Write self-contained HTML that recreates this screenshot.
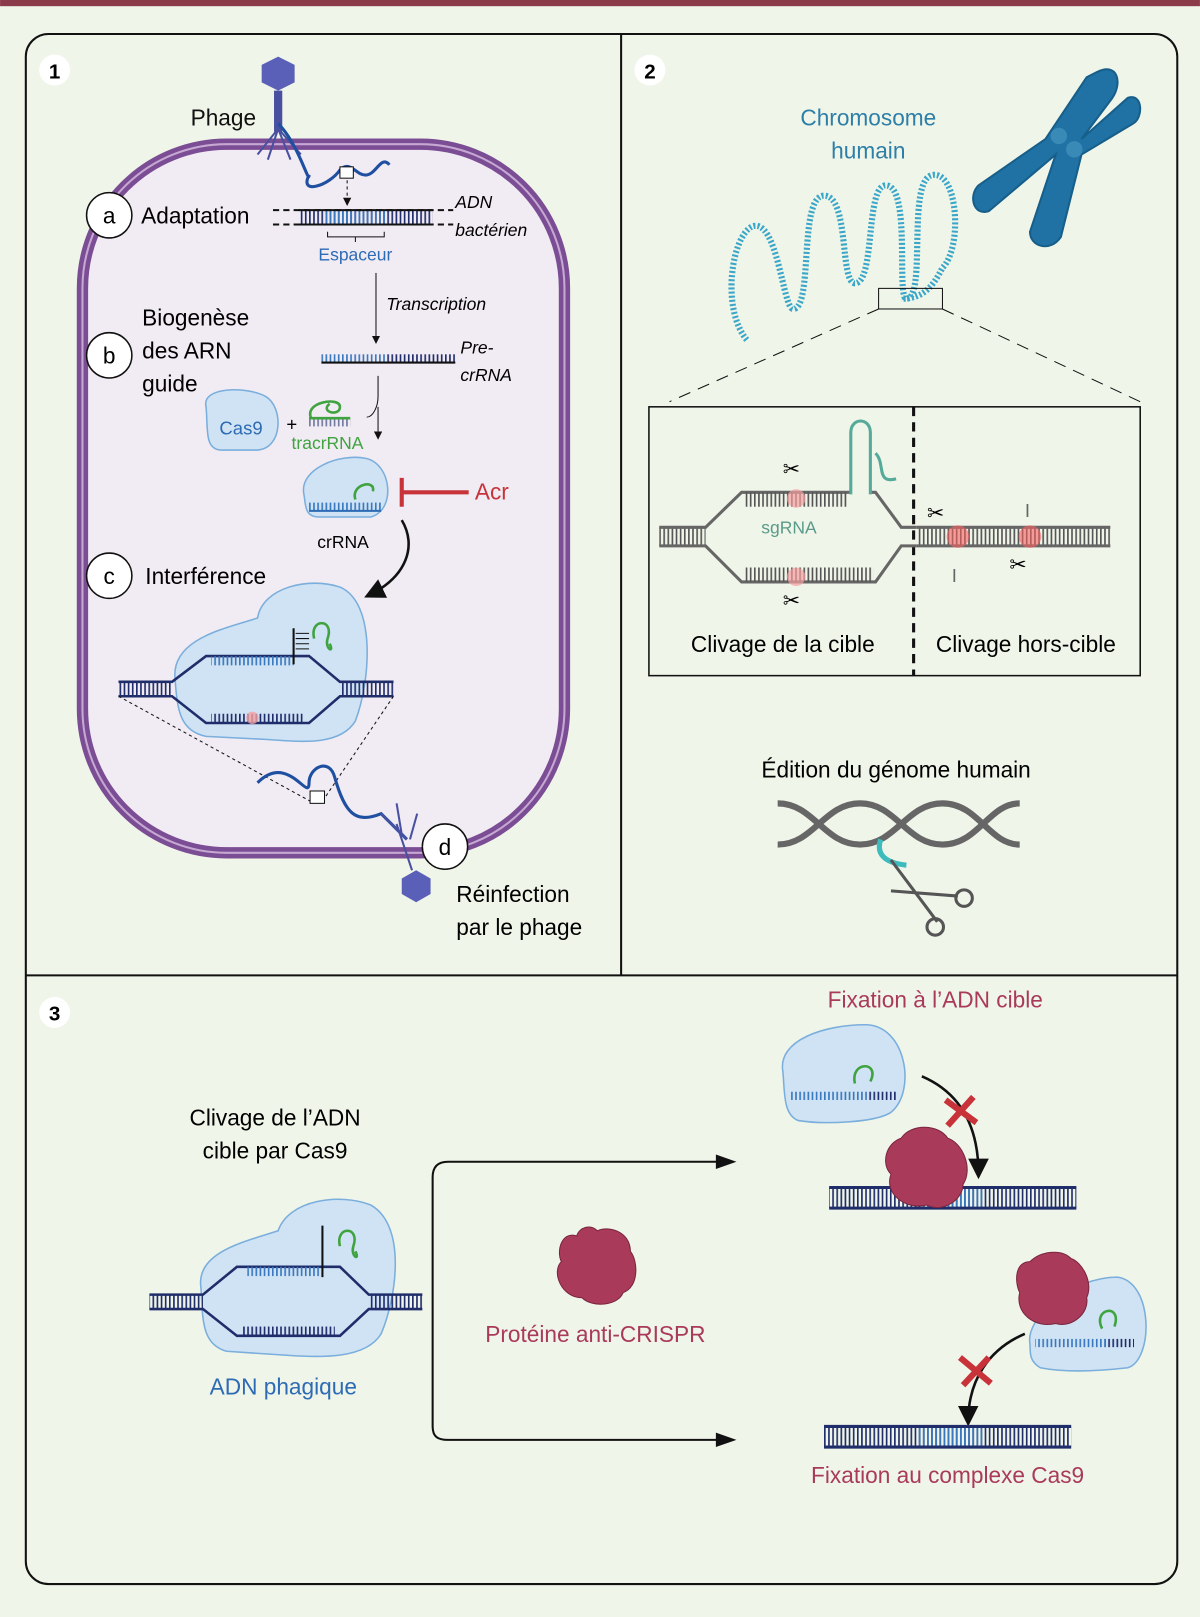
<!DOCTYPE html>
<html><head><meta charset="utf-8"><style>
html,body{margin:0;padding:0;background:#f0f5e9;}
svg{display:block}
text{font-family:"Liberation Sans","DejaVu Sans",sans-serif;}
</style></head><body>
<svg width="1200" height="1617" viewBox="0 0 1165 1570" xmlns="http://www.w3.org/2000/svg">
<defs>
<pattern id="rungs" width="4" height="20" patternUnits="userSpaceOnUse"><rect width="1.6" height="20" fill="#1f2d6b"/></pattern>
<pattern id="rungsB" width="4" height="20" patternUnits="userSpaceOnUse"><rect width="1.6" height="20" fill="#3a78c0"/></pattern>
<pattern id="rungsG" width="4" height="20" patternUnits="userSpaceOnUse"><rect width="1.6" height="20" fill="#555"/></pattern>
<pattern id="dots" width="6" height="6" patternUnits="userSpaceOnUse"><circle cx="3" cy="3" r="1.6" fill="#3aa6c8"/></pattern>
<marker id="ah" markerWidth="8" markerHeight="8" refX="6" refY="4" orient="auto"><path d="M0,0L8,4L0,8z" fill="#111"/></marker>
</defs>
<rect width="1165" height="1570" fill="#f0f5e9"/>
<rect width="1165" height="6" fill="#8b3a4a"/>
<!-- frame -->
<rect x="25" y="33" width="1118" height="1505" rx="22" fill="none" stroke="#111" stroke-width="2"/>
<line x1="603" y1="33" x2="603" y2="947" stroke="#111" stroke-width="2"/>
<line x1="25" y1="947" x2="1143" y2="947" stroke="#111" stroke-width="2"/>
<circle cx="53" cy="68" r="15" fill="#fff"/><text x="53" y="76" text-anchor="middle" font-size="20" font-weight="bold">1</text>
<circle cx="631" cy="68" r="15" fill="#fff"/><text x="631" y="76" text-anchor="middle" font-size="20" font-weight="bold">2</text>
<circle cx="53" cy="983" r="15" fill="#fff"/><text x="53" y="991" text-anchor="middle" font-size="20" font-weight="bold">3</text>

<!-- cell -->
<rect x="80" y="140" width="468" height="688" rx="140" fill="#f1ebf3" stroke="#7b4d94" stroke-width="11"/>
<rect x="80" y="140" width="468" height="688" rx="140" fill="none" stroke="#c6a8d3" stroke-width="2"/>
<!-- phage top -->
<polygon points="270,55 286,63 286,80 270,88 254,80 254,63" fill="#5a60b8"/>
<rect x="266" y="88" width="8" height="40" fill="#4a50a0"/>
<path d="M270,125 L250,150 M270,125 L260,155 M270,125 L282,155 M270,125 L292,150" stroke="#4a50a0" stroke-width="2" fill="none"/>
<text x="185" y="122" font-size="22" fill="#111">Phage</text>
<path d="M270,120 C290,140 300,180 300,170 C290,190 320,180 330,165 C340,155 345,170 355,170 C365,170 370,150 378,160" stroke="#1f4fa0" stroke-width="3" fill="none"/>
<rect x="330" y="162" width="13" height="11" fill="#fff" stroke="#111"/>
<line x1="337" y1="175" x2="337" y2="198" stroke="#111" stroke-dasharray="3,3" marker-end="url(#ah)"/>
<!-- adaptation -->
<circle cx="106" cy="209" r="22" fill="#fff" stroke="#111" stroke-width="1.5"/><text x="106" y="217" text-anchor="middle" font-size="22">a</text>
<text x="137" y="217" font-size="22">Adaptation</text>
<rect x="290" y="204" width="130" height="14" fill="url(#rungs)"/>
<rect x="315" y="204" width="60" height="14" fill="url(#rungsB)"/>
<line x1="265" y1="204" x2="440" y2="204" stroke="#111" stroke-width="2" stroke-dasharray="6,4"/>
<line x1="265" y1="218" x2="440" y2="218" stroke="#111" stroke-width="2" stroke-dasharray="6,4"/>
<line x1="290" y1="204" x2="420" y2="204" stroke="#111" stroke-width="2"/><line x1="290" y1="218" x2="420" y2="218" stroke="#111" stroke-width="2"/>
<path d="M318,225 L318,230 L373,230 L373,225 M345,230 L345,235" stroke="#111" fill="none"/>
<text x="345" y="253" text-anchor="middle" font-size="17" fill="#2d6bb5">Espaceur</text>
<text x="442" y="202" font-size="17" font-style="italic">ADN</text>
<text x="442" y="229" font-size="17" font-style="italic">bactérien</text>
<line x1="365" y1="265" x2="365" y2="332" stroke="#111" marker-end="url(#ah)"/>
<text x="375" y="301" font-size="17" font-style="italic">Transcription</text>
<!-- b -->
<circle cx="106" cy="345" r="22" fill="#fff" stroke="#111" stroke-width="1.5"/><text x="106" y="353" text-anchor="middle" font-size="22">b</text>
<text x="138" y="316" font-size="22">Biogenèse</text><text x="138" y="348" font-size="22">des ARN</text><text x="138" y="380" font-size="22">guide</text>
<rect x="312" y="344" width="62" height="8" fill="url(#rungsB)"/><rect x="374" y="344" width="68" height="8" fill="url(#rungs)"/>
<line x1="312" y1="352" x2="442" y2="352" stroke="#111" stroke-width="2"/>
<text x="447" y="343" font-size="17" font-style="italic">Pre-</text><text x="447" y="370" font-size="17" font-style="italic">crRNA</text>
<path d="M367,365 L367,385 C367,395 362,405 356,405 M367,395 L367,425" stroke="#111" fill="none" marker-end="url(#ah)"/>
<path d="M200,395 C195,375 240,375 258,385 C275,395 275,435 250,437 L215,437 C198,437 202,415 200,395z" fill="#cfe3f4" stroke="#7aaedc" stroke-width="1.5"/>
<text x="234" y="422" text-anchor="middle" font-size="18" fill="#2d6bb5">Cas9</text>
<text x="278" y="418" font-size="18">+</text>
<path d="M302,406 C295,390 330,385 330,395 C330,405 310,400 320,392" stroke="#3fa33f" stroke-width="2.5" fill="none"/>
<rect x="300" y="406" width="40" height="8" fill="url(#rungs)" opacity="0.6"/>
<line x1="300" y1="406" x2="340" y2="406" stroke="#3fa33f" stroke-width="2.5"/>
<text x="283" y="436" font-size="17" fill="#3fa33f">tracrRNA</text>
<path d="M295,480 C290,455 330,440 355,445 C380,450 385,495 360,502 L310,502 C295,502 297,490 295,480z" fill="#cfe3f4" stroke="#7aaedc" stroke-width="1.5"/>
<rect x="300" y="488" width="70" height="8" fill="url(#rungsB)"/><line x1="300" y1="496" x2="370" y2="496" stroke="#2d6bb5" stroke-width="2"/>
<path d="M345,485 C340,470 365,465 362,477" stroke="#3fa33f" stroke-width="2.5" fill="none"/>
<text x="333" y="532" text-anchor="middle" font-size="17">crRNA</text>
<line x1="390" y1="464" x2="390" y2="492" stroke="#c8333a" stroke-width="4"/><line x1="390" y1="478" x2="455" y2="478" stroke="#c8333a" stroke-width="4"/>
<text x="461" y="485" font-size="22" fill="#c8333a">Acr</text>
<path d="M390,505 C405,530 395,560 358,578" stroke="#111" stroke-width="2.5" fill="none" marker-end="url(#ah)"/>
<!-- c -->
<circle cx="106" cy="559" r="22" fill="#fff" stroke="#111" stroke-width="1.5"/><text x="106" y="567" text-anchor="middle" font-size="22">c</text>
<text x="141" y="567" font-size="22">Interférence</text>
<path d="M170,660 C165,620 220,610 250,600 C255,570 300,560 330,570 C365,585 360,660 345,700 C330,725 290,720 260,718 L200,715 C175,710 172,690 170,660z" fill="#cfe3f4" stroke="#7aaedc" stroke-width="1.5"/>
<rect x="115" y="662" width="52" height="14" fill="url(#rungs)"/><rect x="330" y="662" width="52" height="14" fill="url(#rungs)"/>
<path d="M115,662 L167,662 L200,637 L300,637 L330,662 L382,662 M115,676 L167,676 L200,702 L300,702 L330,676 L382,676" stroke="#1f2d6b" stroke-width="2.5" fill="none"/>
<rect x="205" y="637" width="80" height="9" fill="url(#rungsB)"/><rect x="205" y="693" width="90" height="9" fill="url(#rungs)"/>
<line x1="285" y1="610" x2="285" y2="645" stroke="#111" stroke-width="2"/><path d="M287,625 L300,625 M287,620 L300,620 M287,615 L300,615 M287,630 L300,630" stroke="#111"/>
<path d="M305,620 C300,600 325,600 318,620 C315,630 325,635 320,625" stroke="#3fa33f" stroke-width="2.5" fill="none"/>
<circle cx="245" cy="697" r="6" fill="#f3a0a0" opacity="0.8"/>
<path d="M115,676 L305,780 M382,676 L315,775" stroke="#111" stroke-dasharray="3,3"/>
<path d="M250,760 C280,730 300,780 300,760 C300,745 320,735 325,755 C335,790 345,800 370,790 C380,800 385,805 395,815" stroke="#1f4fa0" stroke-width="3" fill="none"/>
<rect x="301" y="768" width="14" height="12" fill="#fff" stroke="#111"/>
<path d="M385,800 L400,845 M370,790 L395,815 M385,780 L390,810 M405,790 L398,815" stroke="#4a50a0" stroke-width="2"/>
<polygon points="404,845 418,853 418,868 404,876 390,868 390,853" fill="#5a60b8"/>
<circle cx="432" cy="822" r="22" fill="#fff" stroke="#111" stroke-width="1.5"/><text x="432" y="830" text-anchor="middle" font-size="22">d</text>
<text x="443" y="876" font-size="22">Réinfection</text><text x="443" y="908" font-size="22">par le phage</text>

<!-- panel 2 -->
<text x="843" y="122" text-anchor="middle" font-size="22" fill="#2d7fa8">Chromosome</text>
<text x="843" y="154" text-anchor="middle" font-size="22" fill="#2d7fa8">humain</text>
<path d="M1065,70 C1085,60 1090,80 1080,95 L1050,135 L1095,95 C1110,90 1110,115 1100,120 L1050,150 L1030,230 C1020,245 1000,240 1000,225 L1025,150 L960,205 C945,210 940,190 950,180 L1015,135 L1055,75z" fill="#1f72a3" stroke="#175f8a" stroke-width="2"/>
<circle cx="1028" cy="132" r="8" fill="#3a8ab8"/><circle cx="1043" cy="145" r="8" fill="#3a8ab8"/>
<path d="M725,330 C700,300 710,230 730,220 C755,210 760,300 770,300 C790,300 775,190 800,190 C825,190 815,275 830,275 C850,275 840,180 860,180 C885,180 870,290 880,290 C900,290 880,175 905,170 C930,165 935,240 915,260 C905,280 895,290 875,290" stroke="#3aa6c8" stroke-width="6" fill="none" stroke-dasharray="2,2"/>
<rect x="853" y="280" width="62" height="20" fill="none" stroke="#111"/>
<path d="M853,300 L650,390 M915,300 L1107,390" stroke="#111" stroke-dasharray="12,8"/>
<rect x="630" y="395" width="477" height="261" fill="none" stroke="#111" stroke-width="1.5"/>
<line x1="887" y1="395" x2="887" y2="656" stroke="#111" stroke-width="3" stroke-dasharray="9,6"/>
<rect x="640" y="512" width="45" height="18" fill="url(#rungsG)"/>
<path d="M640,512 L685,512 L720,478 L850,478 L875,512 L890,512 M640,530 L685,530 L720,565 L850,565 L875,530 L890,530" stroke="#666" stroke-width="3" fill="none"/>
<rect x="723" y="478" width="100" height="14" fill="url(#rungsG)"/><rect x="723" y="551" width="125" height="14" fill="url(#rungsG)"/>
<path d="M826,480 L826,420 C826,405 845,405 845,420 L845,480" stroke="#5a9" stroke-width="3" fill="#f0f5e9"/>
<path d="M850,440 C860,450 850,470 870,465" stroke="#5a9" stroke-width="3" fill="none"/>
<text x="766" y="518" text-anchor="middle" font-size="17" fill="#5a9a8a">sgRNA</text>
<circle cx="773" cy="484" r="9" fill="#f5a0a0" opacity="0.7"/><circle cx="773" cy="560" r="9" fill="#f5a0a0" opacity="0.7"/>
<text x="760" y="462" font-size="20">✂</text><text x="760" y="590" font-size="20">✂</text>
<rect x="890" y="512" width="188" height="18" fill="url(#rungsG)"/>
<line x1="890" y1="512" x2="1078" y2="512" stroke="#666" stroke-width="3"/><line x1="890" y1="530" x2="1078" y2="530" stroke="#666" stroke-width="3"/>
<circle cx="930" cy="521" r="11" fill="#f56060" opacity="0.6"/><circle cx="1000" cy="521" r="11" fill="#f56060" opacity="0.6"/>
<text x="900" y="505" font-size="20">✂</text><text x="980" y="555" font-size="20">✂</text>
<text x="995" y="502" font-size="18" fill="#666">I</text><text x="924" y="565" font-size="18" fill="#666">I</text>
<text x="760" y="633" text-anchor="middle" font-size="22">Clivage de la cible</text>
<text x="996" y="633" text-anchor="middle" font-size="22">Clivage hors-cible</text>
<text x="870" y="755" text-anchor="middle" font-size="22">Édition du génome humain</text>
<path d="M755,780 C790,780 800,820 835,820 C870,820 880,780 915,780 C950,780 960,820 990,820 M755,820 C790,820 800,780 835,780 C870,780 880,820 915,820 C950,820 960,780 990,780" stroke="#666" stroke-width="6" fill="none"/>
<path d="M855,815 C850,830 860,838 880,840" stroke="#3cbcbc" stroke-width="5" fill="none"/>
<path d="M865,835 L910,895 M865,865 L930,870" stroke="#555" stroke-width="3"/>
<circle cx="908" cy="900" r="8" fill="none" stroke="#555" stroke-width="3"/><circle cx="936" cy="872" r="8" fill="none" stroke="#555" stroke-width="3"/>

<!-- panel 3 -->
<text x="267" y="1093" text-anchor="middle" font-size="22">Clivage de l’ADN</text>
<text x="267" y="1125" text-anchor="middle" font-size="22">cible par Cas9</text>
<path d="M195,1250 C190,1215 240,1205 270,1195 C280,1165 330,1158 360,1170 C395,1190 385,1260 370,1295 C355,1320 310,1318 280,1316 L220,1312 C195,1305 197,1280 195,1250z" fill="#cfe3f4" stroke="#7aaedc" stroke-width="1.5"/>
<rect x="145" y="1257" width="52" height="14" fill="url(#rungs)"/><rect x="358" y="1257" width="52" height="14" fill="url(#rungs)"/>
<path d="M145,1257 L197,1257 L230,1230 L330,1230 L358,1257 L410,1257 M145,1271 L197,1271 L230,1297 L330,1297 L358,1271 L410,1271" stroke="#1f2d6b" stroke-width="2.5" fill="none"/>
<rect x="240" y="1230" width="70" height="9" fill="url(#rungsB)"/><rect x="235" y="1288" width="90" height="9" fill="url(#rungs)"/>
<line x1="313" y1="1190" x2="313" y2="1240" stroke="#111" stroke-width="2"/>
<path d="M330,1210 C325,1190 350,1190 343,1210 C340,1220 350,1225 345,1215" stroke="#3fa33f" stroke-width="2.5" fill="none"/>
<text x="275" y="1354" text-anchor="middle" font-size="22" fill="#2d6bb5">ADN phagique</text>
<path d="M710,1128 L435,1128 C425,1128 420,1133 420,1143 L420,1385 C420,1395 425,1398 435,1398 L710,1398" stroke="#111" stroke-width="2" fill="none"/>
<polygon points="715,1128 695,1121 695,1135" fill="#111"/><polygon points="715,1398 695,1391 695,1405" fill="#111"/>
<path d="M560,1200 C545,1195 540,1215 545,1225 C535,1235 545,1260 565,1260 C575,1270 600,1268 605,1255 C620,1250 620,1225 612,1215 C612,1195 590,1190 580,1195 C573,1188 562,1192 560,1200z" fill="#a93a5a" stroke="#7a2540"/>
<text x="578" y="1303" text-anchor="middle" font-size="22" fill="#a93a5a">Protéine anti-CRISPR</text>
<text x="908" y="978" text-anchor="middle" font-size="22" fill="#a93a5a">Fixation à l’ADN cible</text>
<path d="M760,1040 C755,1010 800,995 840,995 C880,995 890,1060 865,1080 C850,1090 800,1092 775,1088 C760,1082 762,1060 760,1040z" fill="#cfe3f4" stroke="#7aaedc" stroke-width="1.5"/>
<rect x="768" y="1060" width="75" height="8" fill="url(#rungsB)"/><rect x="843" y="1060" width="28" height="8" fill="url(#rungs)"/>
<path d="M830,1052 C825,1030 855,1030 845,1050" stroke="#3fa33f" stroke-width="2.5" fill="none"/>
<path d="M895,1045 C930,1060 950,1090 950,1140" stroke="#111" stroke-width="2.5" fill="none" marker-end="url(#ah)"/>
<path d="M918,1068 L948,1090 M945,1065 L920,1093" stroke="#c8333a" stroke-width="6"/>
<rect x="805" y="1153" width="240" height="20" fill="url(#rungs)"/><rect x="895" y="1153" width="60" height="20" fill="url(#rungsB)"/>
<line x1="805" y1="1153" x2="1045" y2="1153" stroke="#1f2d6b" stroke-width="3"/><line x1="805" y1="1173" x2="1045" y2="1173" stroke="#1f2d6b" stroke-width="3"/>
<path d="M875,1105 C860,1110 855,1130 865,1140 C858,1160 880,1175 900,1170 C915,1178 935,1165 935,1150 C945,1135 935,1110 920,1105 C912,1092 885,1090 875,1105z" fill="#a93a5a" stroke="#7a2540"/>
<path d="M1000,1305 C995,1280 1040,1240 1085,1240 C1120,1245 1120,1320 1095,1328 C1060,1332 1030,1332 1010,1328 C1000,1322 1000,1315 1000,1305z" fill="#cfe3f4" stroke="#7aaedc" stroke-width="1.5"/>
<rect x="1005" y="1300" width="68" height="8" fill="url(#rungsB)"/><rect x="1073" y="1300" width="28" height="8" fill="url(#rungs)"/>
<path d="M1070,1290 C1060,1270 1090,1265 1082,1288" stroke="#3fa33f" stroke-width="2.5" fill="none"/>
<path d="M1000,1225 C985,1225 985,1245 990,1255 C985,1275 1005,1290 1025,1285 C1040,1290 1058,1275 1055,1260 C1062,1245 1050,1225 1040,1222 C1030,1212 1010,1215 1000,1225z" fill="#a93a5a" stroke="#7a2540"/>
<path d="M995,1295 C960,1310 940,1340 940,1380" stroke="#111" stroke-width="2.5" fill="none" marker-end="url(#ah)"/>
<path d="M932,1318 L962,1343 M960,1318 L935,1345" stroke="#c8333a" stroke-width="6"/>
<rect x="800" y="1385" width="240" height="20" fill="url(#rungs)"/><rect x="890" y="1385" width="65" height="20" fill="url(#rungsB)"/>
<line x1="800" y1="1385" x2="1040" y2="1385" stroke="#1f2d6b" stroke-width="3"/><line x1="800" y1="1405" x2="1040" y2="1405" stroke="#1f2d6b" stroke-width="3"/>
<text x="920" y="1440" text-anchor="middle" font-size="22" fill="#a93a5a">Fixation au complexe Cas9</text>
</svg>
</body></html>
